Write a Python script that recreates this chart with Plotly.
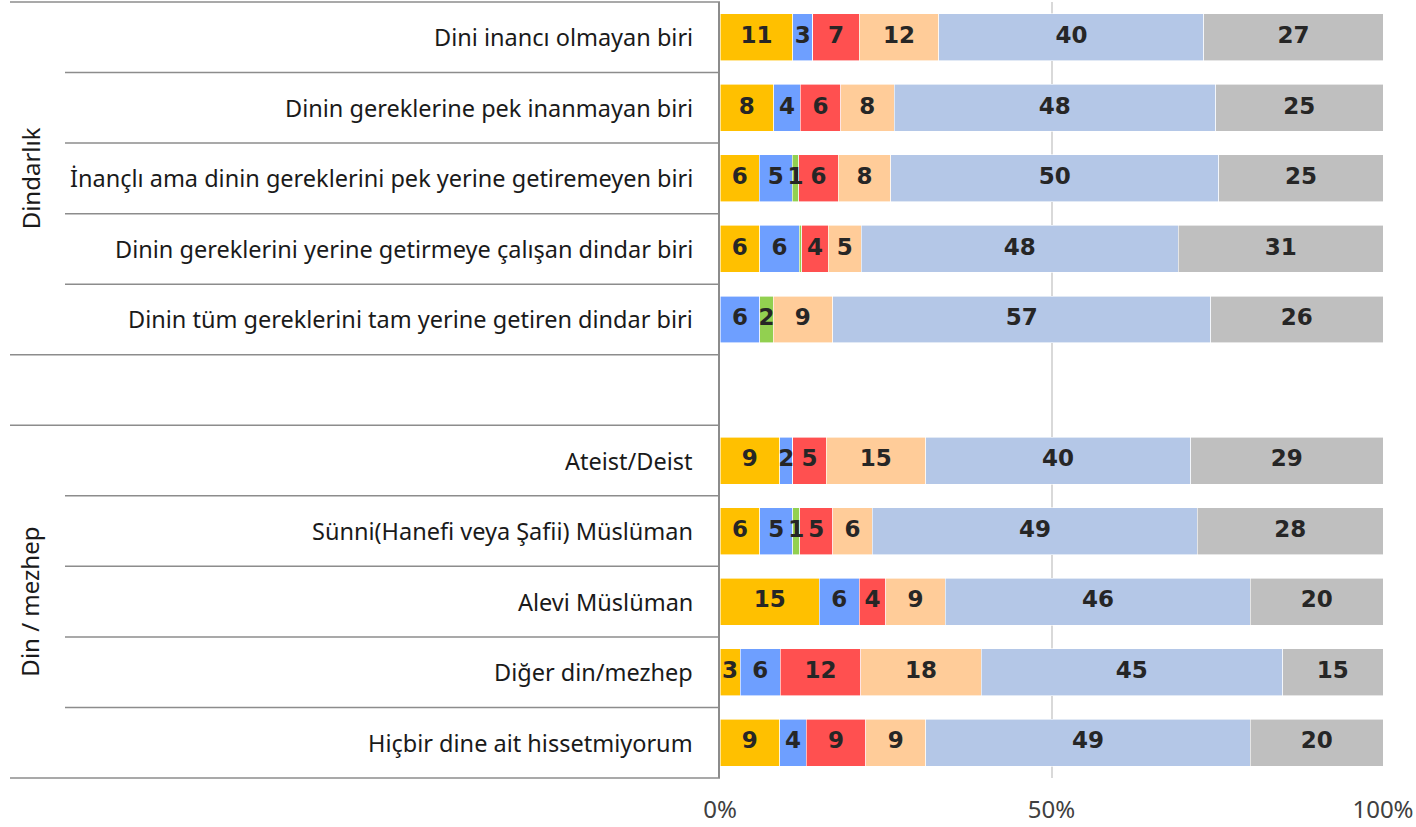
import plotly.graph_objects as go

categories = [
    "Dini inancı olmayan biri",
    "Dinin gereklerine pek inanmayan biri",
    "İnançlı ama dinin gereklerini pek yerine getiremeyen biri",
    "Dinin gereklerini yerine getirmeye çalışan dindar biri",
    "Dinin tüm gereklerini tam yerine getiren dindar biri",
    "",
    "Ateist/Deist",
    "Sünni(Hanefi veya Şafii) Müslüman",
    "Alevi Müslüman",
    "Diğer din/mezhep",
    "Hiçbir dine ait hissetmiyorum",
]
group_names = ["Dindarlık", "Din / mezhep"]
group_rows = [[0, 1, 2, 3, 4], [6, 7, 8, 9, 10]]

s_yellow = [11, 8, 6, 6, 0, None, 9, 6, 15, 3, 9]
s_blue = [3, 4, 5, 6, 6, None, 2, 5, 6, 6, 4]
s_green = [0, 0, 1, 0.4, 2, None, 0, 1, 0, 0, 0]
s_red = [7, 6, 6, 4, 0, None, 5, 5, 4, 12, 9]
s_peach = [12, 8, 8, 5, 9, None, 15, 6, 9, 18, 9]
s_lightblue = [40, 48, 50, 48, 57, None, 40, 49, 46, 45, 49]
s_gray = [27, 25, 25, 31, 26, None, 29, 28, 20, 15, 20]

series = [s_yellow, s_blue, s_green, s_red, s_peach, s_lightblue, s_gray]
colors = ["#FFC000", "#6E9FFF", "#92D050", "#FF5050", "#FFCC99", "#B4C7E7", "#BFBFBF"]
tick_vals = [0, 50, 100]
tick_text = ["0%", "50%", "100%"]

W, H = 1416, 827
ML, MR, MT, MB = 720, 33, 2, 47
PW = W - ML - MR
PH = H - MT - MB
n = len(categories)
ypos = list(range(n))

LABEL_FONT = "Noto Sans, Open Sans, sans-serif"

fig = go.Figure()
for i, s in enumerate(series):
    fig.add_trace(go.Bar(
        x=s, y=ypos, orientation="h", marker=dict(color=colors[i], line=dict(color="white", width=0.6)),
        name=f"S{i+1}", hoverinfo="skip", showlegend=False,
    ))

# labels at segment centers (normalized, like a 100% stacked chart)
tx, ty, tt = [], [], []
for r in range(n):
    vals = [s[r] for s in series]
    if vals[0] is None:
        continue
    tot = sum(vals)
    cum = 0
    for v in vals:
        if round(v) >= 1:
            tx.append((cum + v / 2) / tot * 100)
            ty.append(r)
            tt.append(str(round(v)))
        cum += v
fig.add_trace(go.Scatter(
    x=tx, y=ty, text=tt, mode="text", showlegend=False, hoverinfo="skip", cliponaxis=False,
    textfont=dict(family="DejaVu Sans, sans-serif", size=23, color="#262626", weight="bold"),
))

fig.update_layout(
    barmode="stack", barnorm="percent", bargap=0.335,
    width=W, height=H, margin=dict(l=ML, r=MR, t=MT, b=MB),
    plot_bgcolor="white", paper_bgcolor="white",
    font=dict(family=LABEL_FONT, color="#1a1a1a"),
)
fig.update_xaxes(
    range=[0, 100], tickvals=tick_vals, ticktext=tick_text, showgrid=True,
    gridcolor="#D9D9D9", gridwidth=1.5, zeroline=False, showline=False,
    tickfont=dict(size=24, color="#404040", family=LABEL_FONT),
    ticks="", ticklabelstandoff=15, fixedrange=True,
)
fig.update_yaxes(
    range=[n - 0.5, -0.5], showticklabels=False, showgrid=False, zeroline=False,
    showline=True, linecolor="#8C8C8C", linewidth=1.5, fixedrange=True,
)

def xp(px):
    return (px - ML) / PW

def yp_boundary(b):
    return 1 - (b + 0.5) / n

shapes = []
for b in range(n + 1):
    bpos = b - 0.5
    long_line = b in (0, 5, 6, n)
    x0 = xp(10) if long_line else xp(65)
    shapes.append(dict(type="line", xref="paper", yref="paper", x0=x0, x1=0,
                       y0=yp_boundary(bpos), y1=yp_boundary(bpos),
                       line=dict(color="#8C8C8C", width=1.5)))
fig.update_layout(shapes=shapes)

ann = []
for r, c in enumerate(categories):
    if c:
        ann.append(dict(xref="paper", yref="y", x=0, y=r, xshift=-25, xanchor="right",
                        yanchor="middle", text=c, showarrow=False,
                        font=dict(size=23.5, color="#1a1a1a", family=LABEL_FONT)))
for g, rows in zip(group_names, group_rows):
    ann.append(dict(xref="paper", yref="y", x=xp(30), y=sum(rows) / len(rows), xanchor="center",
                    yanchor="middle", text=g, showarrow=False, textangle=-90,
                    font=dict(size=24, color="#1a1a1a", family=LABEL_FONT)))
fig.update_layout(annotations=ann)

fig.write_html("out.html", config={"displayModeBar": False},
               post_script="document.body.style.margin='0';")
